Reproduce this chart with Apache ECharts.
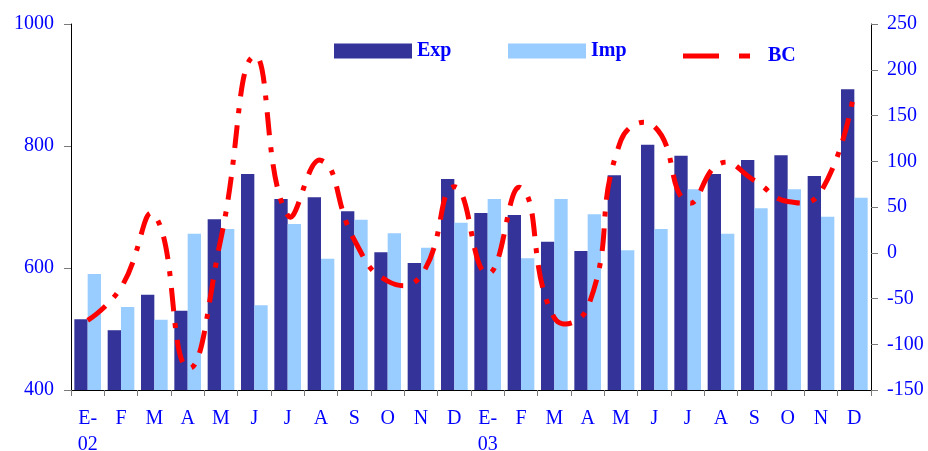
<!DOCTYPE html>
<html>
<head>
<meta charset="utf-8">
<script src="https://cdn.jsdelivr.net/npm/echarts@6/dist/echarts.min.js"></script>
<style>
  html, body { margin: 0; padding: 0; background: #ffffff; }
  #chart { width: 928px; height: 451px; }
</style>
</head>
<body>
<div id="chart"></div>
<script>
// Monthly labels, Jan 2002 – Dec 2003
const months = ['E-\n02', 'F', 'M', 'A', 'M', 'J', 'J', 'A', 'S', 'O', 'N', 'D',
                'E-\n03', 'F', 'M', 'A', 'M', 'J', 'J', 'A', 'S', 'O', 'N', 'D'];

// Exports (left axis)
const exportValues = [516, 498, 556, 530, 680, 754, 713, 716, 693, 626, 608, 746,
                      690, 687, 643, 628, 752, 802, 784, 754, 777, 785, 751, 893];

// Imports (left axis)
const importValues = [590, 536, 515, 656, 664, 539, 672, 615, 679, 657, 633, 674,
                      713, 616, 713, 688, 629, 664, 729, 656, 698, 729, 684, 715];

// Trade balance (right axis)
const balanceValues = [-74, -38, 41, -126, 16, 215, 41, 101, 14, -31, -25, 72,
                       -23, 71, -71, -60, 123, 138, 55, 98, 79, 56, 67, 178];

// Axis scales
const leftTicks = [400, 600, 800, 1000];
const rightTicks = [-150, -100, -50, 0, 50, 100, 150, 200, 250];

const BLUE_TEXT = '#0000FF';
const FONT = 'Liberation Serif';
const SMOOTH = 0.5;

const chart = echarts.init(document.getElementById('chart'), null, { renderer: 'canvas' });

const axisLabelBase = { color: BLUE_TEXT, fontFamily: FONT, fontSize: 20, formatter: v => String(v) };
const tickStyle = { color: '#7a7a7a', width: 1 };
const legendText = { color: BLUE_TEXT, fontFamily: FONT, fontSize: 20, fontWeight: 'bold' };

// Smooth curve through the projected points (free-running Bezier, may overshoot
// between points like a classic spreadsheet "smoothed line").
function smoothPath(pts) {
  const n = pts.length;
  const cps = [];
  for (let i = 0; i < n; i++) {
    if (i === 0 || i === n - 1) { cps.push([pts[i], pts[i]]); continue; }
    const p = pts[i], prev = pts[i - 1], next = pts[i + 1];
    const vx = next[0] - prev[0], vy = next[1] - prev[1];
    const d0 = Math.hypot(p[0] - prev[0], p[1] - prev[1]);
    const d1 = Math.hypot(next[0] - p[0], next[1] - p[1]);
    const sum = d0 + d1 || 1;
    const r0 = d0 / sum, r1 = d1 / sum;
    cps.push([
      [p[0] - vx * SMOOTH * r0, p[1] - vy * SMOOTH * r0],
      [p[0] + vx * SMOOTH * r1, p[1] + vy * SMOOTH * r1]
    ]);
  }
  let d = 'M' + pts[0][0] + ' ' + pts[0][1];
  for (let i = 0; i < n - 1; i++) {
    const c1 = cps[i][1], c2 = cps[i + 1][0], q = pts[i + 1];
    d += ' C' + c1[0] + ' ' + c1[1] + ' ' + c2[0] + ' ' + c2[1] + ' ' + q[0] + ' ' + q[1];
  }
  return d;
}

chart.setOption({
  animation: false,
  backgroundColor: '#ffffff',
  grid: { left: 71, right: 57, top: 24, bottom: 61, containLabel: false, outerBoundsMode: 'none' },
  legend: [
    {
      data: [{ name: 'Exp', icon: 'rect' }],
      left: 334, top: 41, padding: 0,
      itemWidth: 78, itemHeight: 15,
      textStyle: legendText
    },
    {
      data: [{ name: 'Imp', icon: 'rect' }],
      left: 508, top: 41, padding: 0,
      itemWidth: 78, itemHeight: 15,
      textStyle: legendText
    },
    {
      data: [{ name: 'BC', icon: 'path://M0,0H36V5H0Z M56,0H67V5H56Z' }],
      left: 683, top: 46, padding: 0,
      itemWidth: 67, itemHeight: 5,
      formatter: '{t|{name}}',
      textStyle: Object.assign({}, legendText, {
        rich: { t: Object.assign({}, legendText, { padding: [0, 0, 0, 13] }) }
      })
    }
  ],
  xAxis: {
    type: 'category',
    data: months,
    boundaryGap: true,
    axisLine: { show: true, onZero: false, lineStyle: { color: '#000000', width: 1 } },
    axisTick: { show: true, length: 6, lineStyle: tickStyle, alignWithLabel: false },
    axisLabel: { color: BLUE_TEXT, fontFamily: FONT, fontSize: 20, margin: 16, lineHeight: 26, interval: 0 },
    splitLine: { show: false }
  },
  yAxis: [
    {
      type: 'value',
      position: 'left',
      min: leftTicks[0],
      max: leftTicks[leftTicks.length - 1],
      interval: leftTicks[1] - leftTicks[0],
      axisLine: { show: true, lineStyle: { color: '#000000', width: 1 } },
      axisTick: { show: true, length: 7, lineStyle: tickStyle },
      axisLabel: Object.assign({}, axisLabelBase, { margin: 17 }),
      splitLine: { show: false }
    },
    {
      type: 'value',
      position: 'right',
      min: rightTicks[0],
      max: rightTicks[rightTicks.length - 1],
      interval: rightTicks[1] - rightTicks[0],
      axisLine: { show: true, lineStyle: { color: '#000000', width: 1 } },
      axisTick: { show: true, length: 7, lineStyle: tickStyle },
      axisLabel: Object.assign({}, axisLabelBase, { margin: 16 }),
      splitLine: { show: false }
    }
  ],
  series: [
    {
      name: 'Exp',
      type: 'bar',
      yAxisIndex: 0,
      data: exportValues,
      itemStyle: { color: '#333399' },
      barGap: '0%',
      barCategoryGap: '20%'
    },
    {
      name: 'Imp',
      type: 'bar',
      yAxisIndex: 0,
      data: importValues,
      itemStyle: { color: '#99CCFF' },
      barGap: '0%',
      barCategoryGap: '20%'
    },
    {
      name: 'BC',
      type: 'custom',
      coordinateSystem: 'cartesian2d',
      yAxisIndex: 1,
      data: balanceValues.map((v, i) => [i, v]),
      encode: { x: 0, y: 1 },
      itemStyle: { color: '#FF0000' },
      z: 5,
      renderItem: function (params, api) {
        if (params.dataIndex !== 0) return null;
        const pts = balanceValues.map((v, i) => api.coord([i, v]));
        return {
          type: 'path',
          shape: { pathData: smoothPath(pts) },
          style: {
            fill: 'none',
            stroke: '#FF0000',
            lineWidth: 5,
            lineDash: [23, 12, 5, 12],
            lineCap: 'butt'
          }
        };
      }
    }
  ]
});
</script>
</body>
</html>
